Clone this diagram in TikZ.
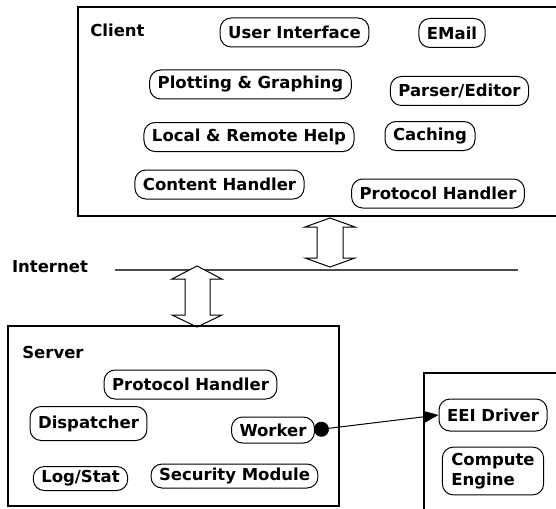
\documentclass[tikz,border=0pt]{standalone}
\usepackage{fontspec}
\setmainfont{DejaVu Sans}
\usetikzlibrary{arrows.meta}

\tikzset{
  comp/.style={draw, line width=1pt, rounded corners=11pt, inner xsep=8pt,
    inner ysep=2pt, minimum height=29pt, font=\fontsize{16.5}{18}\selectfont\bfseries},
  area/.style={draw, line width=1.2pt},
  arealabel/.style={font=\fontsize{16.5}{18}\selectfont\bfseries, inner sep=0pt},
  netline/.style={line width=1.6pt, draw=black!70},
  pipe/.style={draw, line width=1pt, fill=white, line join=miter},
  link/.style={line width=1pt, {Circle[length=15pt]}-{Triangle[length=15pt,width=12pt]}, shorten <=-1pt}
}

\begin{document}
\begin{tikzpicture}[x=1pt, y=-1pt]
\useasboundingbox (0,0) rectangle (556,508);
\clip (0,0) rectangle (556,508);

% ---- Client area
\draw[area] (78,7) rectangle (600,216);
\node[arealabel] (clientlbl) at (117.5,30) {Client};
\node[comp] (ui)      at (294.5,32.5) {User Interface};
\node[comp] (email)   at (452,33)     {EMail};
\node[comp] (plot)    at (250.5,84.5) {Plotting \& Graphing};
\node[comp] (parser)  at (459.5,91)   {Parser/Editor};
\node[comp] (help)    at (249,137)    {Local \& Remote Help};
\node[comp] (cache)   at (430,136)    {Caching};
\node[comp] (content) at (219.5,184.5){Content Handler};
\node[comp] (cproto)  at (438,193.5)  {Protocol Handler};

% ---- Internet
\node[arealabel] (netlbl) at (50,266.5) {Internet};
\coordinate (netA) at (115,270);
\coordinate (netB) at (518,270);
\draw[netline] (netA) -- (netB);

% ---- Double arrows between the areas and the network
\draw[pipe] (330,218) -- (355,227) -- (343,227) -- (343,258) -- (355,258)
  -- (330,267) -- (305,258) -- (317,258) -- (317,227) -- (305,227) -- cycle;
\draw[pipe] (197,266) -- (222,279) -- (210,279) -- (210,315) -- (222,315)
  -- (197,327) -- (172,315) -- (185,315) -- (185,279) -- (172,279) -- cycle;

% ---- Server area
\draw[area] (8,326) rectangle (339,506);
\node[arealabel] (serverlbl) at (53,352) {Server};
\node[comp] (sproto)   at (190.5,384.5) {Protocol Handler};
\node[comp, minimum height=34pt] (disp) at (88.5,423.5) {Dispatcher};
\node[comp, minimum height=26pt] (worker) at (273,430) {Worker};
\node[comp, minimum height=24pt] (log)    at (80.5,478.5) {Log/Stat};
\node[comp, minimum height=24pt] (sec)    at (234.5,476) {Security Module};

% ---- Compute engine area
\draw[area] (424,373) rectangle (600,560);
\node[comp, minimum height=32pt] (eei) at (493,415) {EEI Driver};
\node[comp, align=left, inner ysep=6pt, inner xsep=9pt,
      font=\fontsize{16.5}{20}\selectfont\bfseries] (engine) at (493,471) {Compute\\Engine};

% ---- Worker to driver link
\draw[link] (worker.east) -- (eei.west);
\end{tikzpicture}
\end{document}
